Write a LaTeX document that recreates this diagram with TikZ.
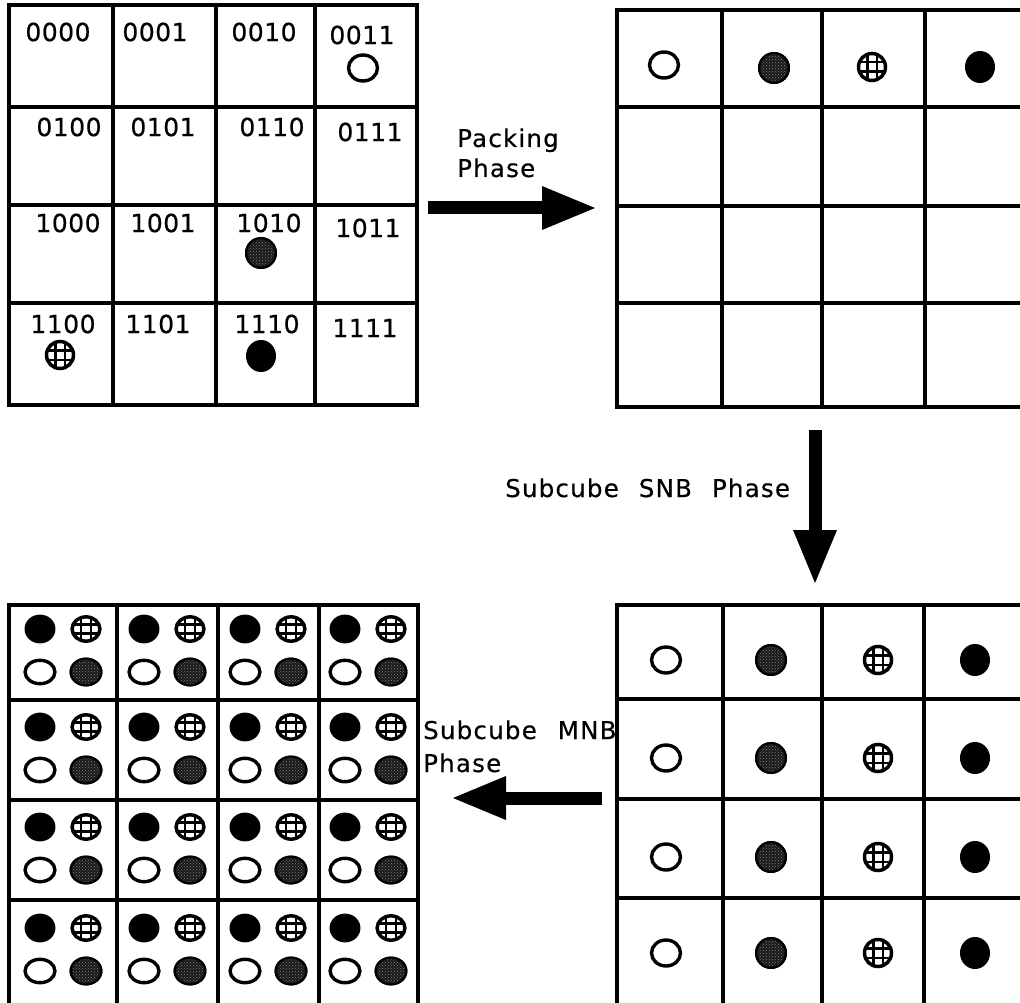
\documentclass[tikz,border=0pt]{standalone}
\usepackage{fontspec}
\newfontfamily\labf[LetterSpace=2,FakeBold=0.5]{DejaVu Sans}
\newfontfamily\capf[LetterSpace=5,FakeBold=0.4]{DejaVu Sans}
\usetikzlibrary{arrows.meta,patterns}
\tikzset{
  gridline/.style={line width=3.2pt, line cap=rect},
  lab/.style={inner sep=0pt, font=\labf\fontsize{25}{28}\selectfont},
  captext/.style={inner sep=0pt, anchor=base west, font=\capf\fontsize{24.5}{28}\selectfont},
  bigarrow/.style={line width=13pt, -{Triangle[length=53pt,width=44pt,line width=0pt]}},
  flat/.style={xscale=1.03, yscale=0.9},
  opn/.pic={\draw[line width=3.4pt] (0,0) ellipse [x radius=14.5pt, y radius=13pt];},
  blk/.pic={\fill (0,0) ellipse [x radius=15pt, y radius=16pt];},
  shd/.pic={\fill[black!90] (0,0) circle [radius=16pt];
            \fill[pattern=crosshatch dots, pattern color=black!50] (0,0) circle [radius=13pt];
            \draw[line width=2pt] (0,0) circle [radius=15pt];},
  crs/.pic={\begin{scope}\clip (0,0) circle [radius=14pt];
              \draw[line width=2.6pt] (-4.8,-15)--(-4.8,15) (4.8,-15)--(4.8,15) (-15,-4.8)--(15,-4.8) (-15,4.8)--(15,4.8);
            \end{scope}
            \draw[line width=3.5pt] (0,0) circle [radius=13.5pt];}
}
\begin{document}
\begin{tikzpicture}[x=1pt,y=-1pt]
\clip (0,0) rectangle (1020,1003);
\fill[white] (0,0) rectangle (1020,1003);

% ---- top-left grid (addresses)
\foreach \x in {9,113,216,315,417} \draw[gridline] (\x,5) -- (\x,405);
\foreach \y in {5,107,205,303,405} \draw[gridline] (9,\y) -- (417,\y);
\foreach \t/\x/\y in {0000/58/32,0001/155/32,0010/264/32,0011/362/35,
                      0100/69/127,0101/163/127,0110/272/127,0111/370/132,
                      1000/68/223,1001/163/223,1010/269/223,1011/368/228,
                      1100/63/324,1101/158/324,1110/267/324,1111/365/328}
  \node[lab] (L\t) at (\x,\y) {\t};
\pic at (363,68) {opn};
\pic at (261,253) {shd};
\pic at (60,355) {crs};
\pic at (261,356) {blk};

% ---- top-right grid
\foreach \x in {617,722,822,925} \draw[gridline] (\x,10) -- (\x,407);
\foreach \y in {10,107,206,303,407} \draw[gridline] (617,\y) -- (1040,\y);
\pic at (664,65) {opn};
\pic at (774,68) {shd};
\pic at (872,67) {crs};
\pic at (980,67) {blk};

% ---- bottom-right grid
\foreach \x in {617,723,822,924} \draw[gridline] (\x,605) -- (\x,1020);
\foreach \y in {605,699,799,898} \draw[gridline] (617,\y) -- (1040,\y);
\foreach \y in {660,758,857,953} {
  \pic at (666,\y) {opn};
  \pic at (771,\y) {shd};
  \pic at (878,\y) {crs};
  \pic at (975,\y) {blk};
}

% ---- bottom-left grid
\foreach \x in {9,117,218,319,418} \draw[gridline] (\x,605) -- (\x,1020);
\foreach \y in {605,700,800,900} \draw[gridline] (9,\y) -- (418,\y);
\foreach \cx in {63,167,268,368} {
  \foreach \cy in {652,750,850,951} {
    \pic[flat] at (\cx-23,\cy-23) {blk};
    \pic[flat] at (\cx+23,\cy-23) {crs};
    \pic[flat] at (\cx-23,\cy+20) {opn};
    \pic[flat] at (\cx+23,\cy+20) {shd};
  }
}

% ---- arrows and labels
\coordinate (pA) at (428,208);
\coordinate (pB) at (595,208);
\draw[bigarrow] (pA) -- (pB);
\node[captext] (packing) at (457,147) {Packing};
\node[captext] (packphase) at (457,177) {Phase};

\coordinate (sA) at (815,430);
\coordinate (sB) at (815,583);
\draw[bigarrow] (sA) -- (sB);
\node[captext] (snb) at (505,497) {Subcube\hspace{20pt}SNB\hspace{20pt}Phase};

\coordinate (mA) at (602,798);
\coordinate (mB) at (453,798);
\draw[bigarrow] (mA) -- (mB);
\node[captext] (mnb) at (423,739) {Subcube\hspace{21pt}MNB};
\node[captext] (mnbphase) at (423,772) {Phase};
\end{tikzpicture}
\end{document}
